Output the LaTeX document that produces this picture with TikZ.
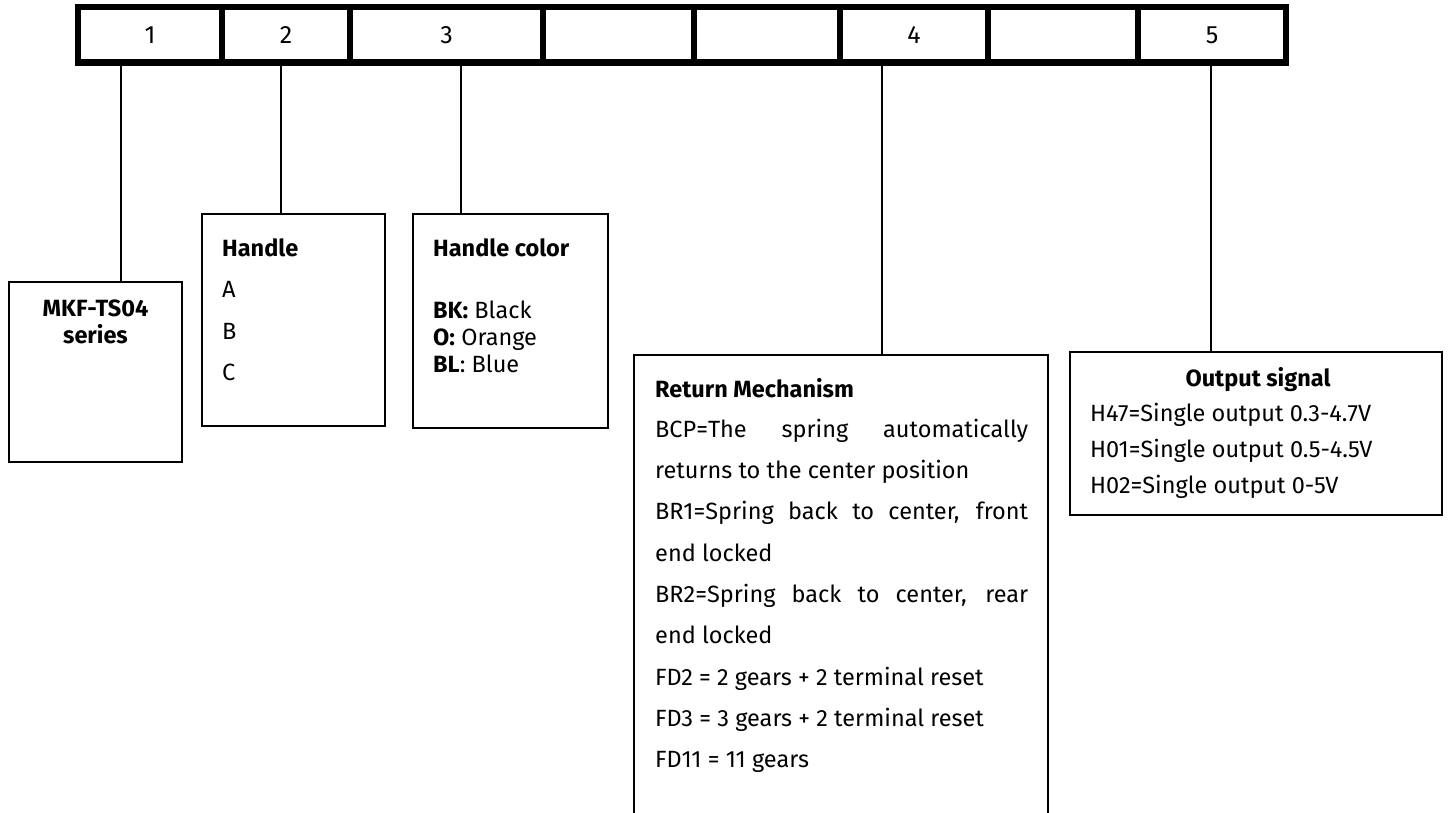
\documentclass[tikz,border=0pt]{standalone}
\usepackage{fontspec}
\setmainfont{Fira Sans}
\usetikzlibrary{positioning}
\newcommand{\bodysize}{\fontsize{23.5}{28}\selectfont}

\begin{document}
\begin{tikzpicture}[x=1pt,y=-1pt,
    cell/.style={draw,line width=5.5pt,minimum height=56pt,inner sep=0pt,outer sep=0pt,
      font=\fontsize{25}{25}\selectfont},
    box/.style={draw,line width=2.5pt,inner sep=0pt,outer sep=0pt,anchor=north west},
    lead/.style={line width=2pt},
    item/.style={inner sep=0pt,anchor=base west,font=\bodysize},
    head/.style={item,font=\bodysize\bfseries}]
\useasboundingbox (0,0) rectangle (1454,813);

% code cells
\foreach \xl/\xr/\t [count=\i] in {78/222/1,222/350/2,350/543/3,543/694/{},
    694/840/{},840/988/4,988/1138/{},1138/1286/5}
  \node[cell,minimum width=\xr pt-\xl pt] (c\i) at ({(\xl+\xr)/2},35) {\t};
\draw[line width=7pt] (c1.south west) -- (c8.south east);

% boxes
\node[box,minimum width=173pt,minimum height=180pt] (series) at (9,282) {};
\node[box,minimum width=183pt,minimum height=212pt] (handle) at (202,214) {};
\node[box,minimum width=195pt,minimum height=214pt] (colour) at (413,214) {};
\node[inner sep=0pt,outer sep=0pt,anchor=north west,minimum width=414pt,minimum height=458pt] (ret) at (634,355) {};
\draw[line width=2.5pt] (ret.south west) |- (ret.north east) -- (ret.south east);
\node[box,minimum width=372pt,minimum height=163pt] (out) at (1070,352) {};

% leads from the cells
\coordinate (j1) at (121,63);
\coordinate (j2) at (281,63);
\coordinate (j3) at (461,63);
\coordinate (j4) at (882,63);
\coordinate (j5) at (1211,63);
\draw[lead] (j1) -- (j1 |- series.north);
\draw[lead] (j2) -- (j2 |- handle.north);
\draw[lead] (j3) -- (j3 |- colour.north);
\draw[lead] (j4) -- (j4 |- ret.north);
\draw[lead] (j5) -- (j5 |- out.north);

% 1
\node[head,anchor=base] (s1) at (95.5,316) {MKF-TS04};
\node[head,anchor=base] (s2) at (95.5,343) {series};

% 2
\node[head] (h0) at (222,256) {Handle};
\foreach \t/\y [count=\k] in {A/298,B/339,C/380}
  \node[item] (h\k) at (222,\y) {\t};

% 3
\node[head] (k0) at (433,256) {Handle color};
\node[item] (k1) at (433,318) {\textbf{BK:} Black};
\node[item] (k2) at (433,345) {\textbf{O:} Orange};
\node[item] (k3) at (433,372) {\textbf{BL}: Blue};

% 4
\node[head] (r0) at (655,397) {Return Mechanism};
\foreach \t [count=\k] in {{\makebox[373pt][s]{BCP=The spring automatically}},
    {returns to the center position},
    {\makebox[373pt][s]{BR1=Spring back to center, front}},
    {end locked},
    {\makebox[373pt][s]{BR2=Spring back to center, rear}},
    {end locked},
    {FD2 = 2 gears + 2 terminal reset},
    {FD3 = 3 gears + 2 terminal reset},
    {FD11 = 11 gears}}
  \node[item] (r\k) at (655,{396+41.3*\k}) {\t};

% 5
\node[head,anchor=base] (o0) at (1258,386) {Output signal};
\foreach \t [count=\k] in {H47=Single output 0.3-4.7V,H01=Single output 0.5-4.5V,
    H02=Single output 0-5V}
  \node[item] (o\k) at (1090,{385+36*\k}) {\t};
\end{tikzpicture}
\end{document}
